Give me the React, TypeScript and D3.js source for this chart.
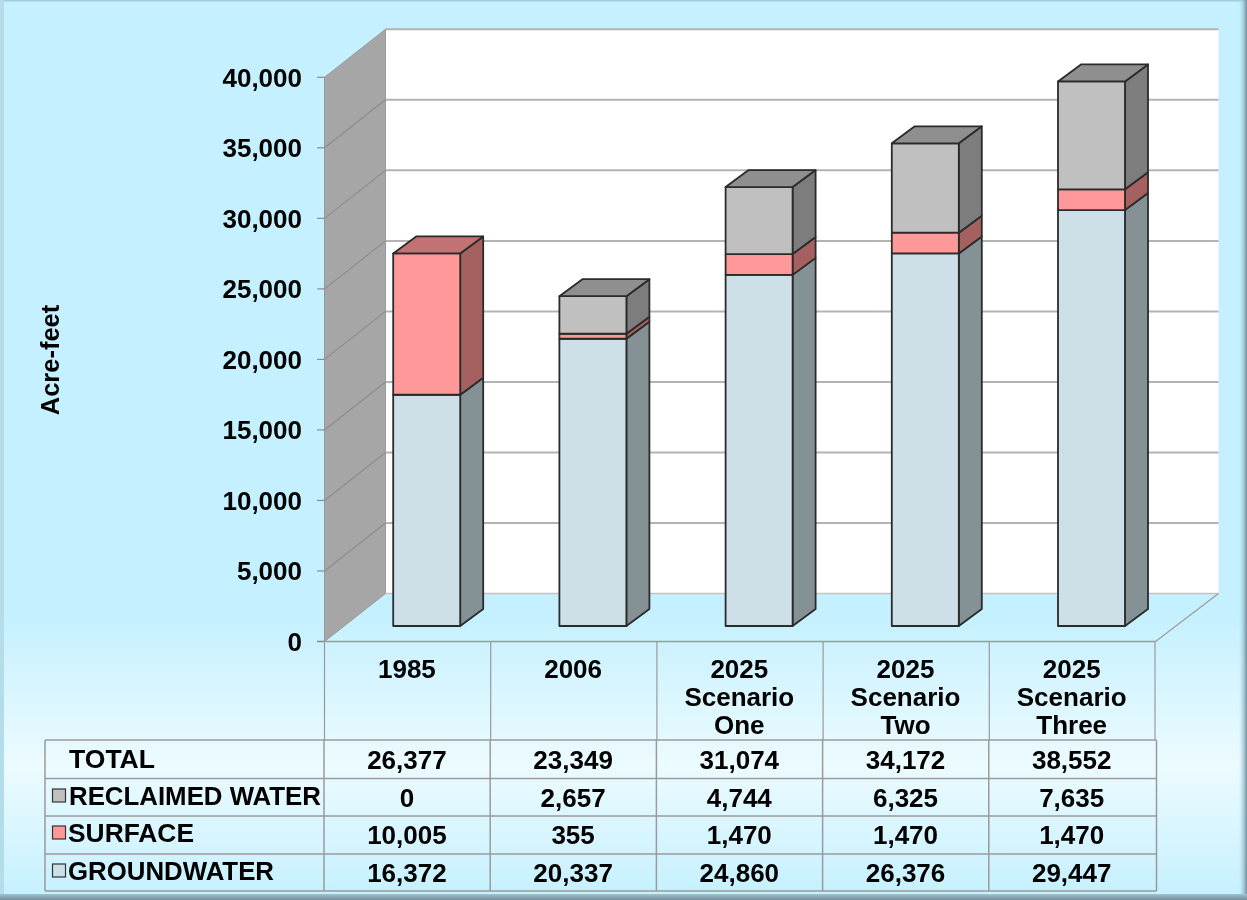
import React from "react";
import * as d3 from "d3";

const categories = ["1985", "2006", "2025 Scenario One", "2025 Scenario Two", "2025 Scenario Three"];
const categoryLines = [["1985"], ["2006"], ["2025", "Scenario", "One"], ["2025", "Scenario", "Two"], ["2025", "Scenario", "Three"]];
const groundwater = [16372, 20337, 24860, 26376, 29447];
const surface = [10005, 355, 1470, 1470, 1470];
const reclaimed = [0, 2657, 4744, 6325, 7635];
const totals = [26377, 23349, 31074, 34172, 38552];
const yTicks = [0, 5000, 10000, 15000, 20000, 25000, 30000, 35000, 40000];
const seriesKeys = ["groundwater", "surface", "reclaimed"];
const seriesFront = ["#cde0e8", "#ff9999", "#c0c0c0"];
const seriesSide = ["#849296", "#a56060", "#7d7d7d"];
const seriesTop = ["#9aa8ad", "#c27272", "#8f8f8f"];
const tableRows = [
  { label: "TOTAL", values: totals, swatch: null, textX: 69, labelY: 768, valueY: 769, labelLen: 86 },
  { label: "RECLAIMED WATER", values: reclaimed, swatch: "#c0c0c0", textX: 69, labelY: 805, valueY: 807, labelLen: 252 },
  { label: "SURFACE", values: surface, swatch: "#ff9999", textX: 68, labelY: 842, valueY: 844, labelLen: 126 },
  { label: "GROUNDWATER", values: groundwater, swatch: "#cde0e8", textX: 68, labelY: 880, valueY: 882, labelLen: 206 },
];

const FONT = "'Liberation Sans', Arial, sans-serif";
const GRID = "#b3b3b3";
const CELL = "#9a9a9a";
const fmt = d3.format(",");

const yFront = d3.scaleLinear().domain([0, 40000]).range([641.5, 77.3]);
const yBar = d3.scaleLinear().domain([0, 40000]).range([626, 61]);
const x = d3.scaleBand<string>().domain(categories).range([324.5, 1155.5]).paddingInner(0).paddingOuter(0);
const wallDx = 61;
const wallDy = -48;
const barDx = 23;
const barDy = -17;
const barOffset = 68.7;
const barWidth = 67;
const rowY = [740, 778.5, 816, 854, 891];

const stackData = categories.map((c, i) => ({
  category: c,
  groundwater: groundwater[i],
  surface: surface[i],
  reclaimed: reclaimed[i],
}));
const stacked = d3.stack<any>().keys(seriesKeys)(stackData);
const pts = (a: number[][]) => a.map((p) => p.join(",")).join(" ");

export default function App() {
  const x0 = 324.5;
  const xRight = 1155.5;
  const y0 = yFront(0);
  const yTop = yFront(40000);
  const barY = (v: number) => yBar(v);
  return (
    <svg
      width={1247}
      height={900}
      viewBox="0 0 1247 900"
      style={{ position: "absolute", left: 0, top: 0, display: "block", filter: "blur(0.45px)" }}
      fontFamily={FONT}
      fontWeight="bold"
    >
      <defs>
        <linearGradient id="bg" x1="0" y1="0" x2="0" y2="1">
          <stop offset="0" stopColor="#c4f0ff" />
          <stop offset="0.68" stopColor="#c4f0ff" />
          <stop offset="0.85" stopColor="#ecfbff" />
          <stop offset="1" stopColor="#c4f0ff" />
        </linearGradient>
        <linearGradient id="rightEdge" x1="0" y1="0" x2="1" y2="0">
          <stop offset="0" stopColor="#c4f0ff" stopOpacity="0" />
          <stop offset="1" stopColor="#6f8f9c" />
        </linearGradient>
        <linearGradient id="bottomEdge" x1="0" y1="0" x2="0" y2="1">
          <stop offset="0" stopColor="#9fc4d0" />
          <stop offset="1" stopColor="#6f8f9c" />
        </linearGradient>
      </defs>
      <rect x={0} y={0} width={1247} height={900} fill="url(#bg)" />
      <rect x={0} y={0} width={1247} height={1.5} fill="#a5ccd8" />
      <rect x={0} y={0} width={4} height={900} fill="#b4dde9" />
      <rect x={1238} y={0} width={9} height={900} fill="url(#rightEdge)" />
      <rect x={0} y={894} width={1247} height={6} fill="url(#bottomEdge)" />

      {/* back wall */}
      <rect x={x0 + wallDx} y={yTop + wallDy} width={xRight - x0 + 2} height={y0 - yTop} fill="#ffffff" />
      <line x1={x0 + wallDx} x2={xRight + wallDx + 2} y1={yTop + wallDy} y2={yTop + wallDy} stroke={GRID} strokeWidth={2} />
      {/* side wall */}
      <polygon
        points={pts([[x0, yTop], [x0 + wallDx, yTop + wallDy], [x0 + wallDx, y0 + wallDy], [x0, y0]])}
        fill="#a6a6a6"
        stroke="#999999"
        strokeWidth={1}
      />
      {/* floor */}
      <line x1={x0 + wallDx} y1={y0 + wallDy} x2={xRight + wallDx + 2} y2={y0 + wallDy} stroke="#c4c4c4" strokeWidth={1.5} />
      <line x1={xRight} y1={y0} x2={xRight + wallDx + 2} y2={y0 + wallDy} stroke="#a0a0a0" strokeWidth={1.5} />
      <line x1={317} y1={y0} x2={xRight} y2={y0} stroke={CELL} strokeWidth={1.5} />

      {/* grid and ticks */}
      {yTicks.map((t) => (
        <g key={t}>
          {t > 0 && t < 40000 && (
            <line x1={x0 + wallDx} x2={xRight + wallDx + 2} y1={yFront(t) + wallDy} y2={yFront(t) + wallDy} stroke={GRID} strokeWidth={2} />
          )}
          {t > 0 && t < 40000 && (
            <line x1={x0} x2={x0 + wallDx} y1={yFront(t)} y2={yFront(t) + wallDy} stroke="#8c8c8c" strokeWidth={1.2} />
          )}
          <line x1={317} x2={x0} y1={yFront(t)} y2={yFront(t)} stroke="#8c8c8c" strokeWidth={1.2} />
          <text x={302} y={yFront(t) + 9.5} textAnchor="end" fontSize={26} fill="#000">
            {fmt(t)}
          </text>
        </g>
      ))}

      <text transform="translate(59,360) rotate(-90)" textAnchor="middle" fontSize={25.5} fill="#000">
        Acre-feet
      </text>

      {/* bars */}
      {categories.map((c, i) => {
        const left = (x(c) as number) + barOffset;
        const right = left + barWidth;
        const topValue = stacked[2][i][1];
        return (
          <g key={c} stroke="#2b2b2b" strokeWidth={1.8} strokeLinejoin="round">
            {stacked.map((s, k) => {
              const [a, b] = s[i];
              if (b - a <= 0) return null;
              const ya = barY(a);
              const yb = barY(b);
              return (
                <g key={seriesKeys[k]}>
                  <polygon
                    points={pts([[right, ya], [right + barDx, ya + barDy], [right + barDx, yb + barDy], [right, yb]])}
                    fill={seriesSide[k]}
                  />
                  <rect x={left} y={yb} width={barWidth} height={ya - yb} fill={seriesFront[k]} />
                </g>
              );
            })}
            <polygon
              points={pts([
                [left, barY(topValue)],
                [left + barDx, barY(topValue) + barDy],
                [right + barDx, barY(topValue) + barDy],
                [right, barY(topValue)],
              ])}
              fill={seriesTop[reclaimed[i] > 0 ? 2 : 1]}
            />
          </g>
        );
      })}

      {/* table */}
      {categories.map((c) => (
        <line key={c} x1={x(c) as number} x2={x(c) as number} y1={y0} y2={rowY[0]} stroke={CELL} strokeWidth={1.2} />
      ))}
      <line x1={xRight - 0.5} x2={xRight - 0.5} y1={y0} y2={rowY[0]} stroke={CELL} strokeWidth={1.2} />
      {rowY.map((y) => (
        <line key={y} x1={45} x2={1156.5} y1={y} y2={y} stroke={CELL} strokeWidth={1.5} />
      ))}
      <line x1={45} x2={45} y1={rowY[0]} y2={rowY[4]} stroke={CELL} strokeWidth={1.5} />
      <line x1={1156.5} x2={1156.5} y1={rowY[0]} y2={rowY[4]} stroke={CELL} strokeWidth={1.5} />
      {categories.map((c) => (
        <line key={c} x1={(x(c) as number) - 0.5} x2={(x(c) as number) - 0.5} y1={rowY[0]} y2={rowY[4]} stroke={CELL} strokeWidth={1.5} />
      ))}

      {categories.map((c, i) => (
        <text key={c} textAnchor="middle" fontSize={26} fill="#000">
          {categoryLines[i].map((line, j) => (
            <tspan key={j} x={(x(c) as number) + x.bandwidth() / 2 - 0.7} y={678 + j * 28.2}>
              {line}
            </tspan>
          ))}
        </text>
      ))}

      {tableRows.map((r) => (
        <g key={r.label}>
          {r.swatch && (
            <rect x={52.5} y={r.labelY - 16} width={13} height={13} fill={r.swatch} stroke="#333333" strokeWidth={1.2} />
          )}
          <text x={r.textX} y={r.labelY} fontSize={26} fill="#000" textLength={r.labelLen} lengthAdjust="spacingAndGlyphs">
            {r.label}
          </text>
          {r.values.map((v, i) => (
            <text key={i} x={(x(categories[i]) as number) + x.bandwidth() / 2 - 0.7} y={r.valueY} textAnchor="middle" fontSize={26} fill="#000">
              {fmt(v)}
            </text>
          ))}
        </g>
      ))}
    </svg>
  );
}
